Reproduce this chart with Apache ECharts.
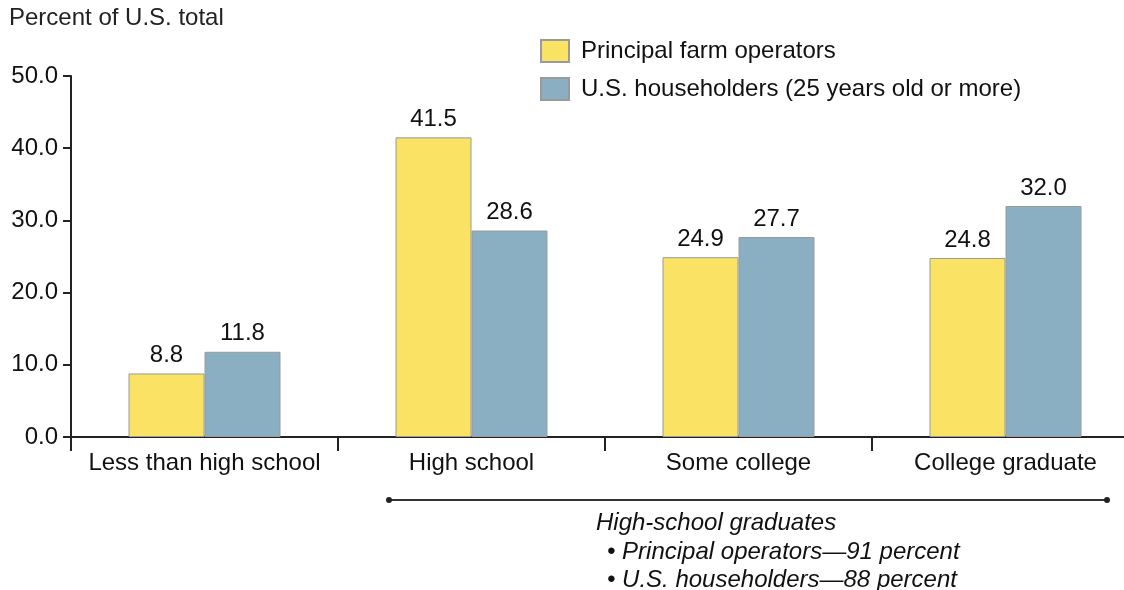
<!DOCTYPE html>
<html><head><meta charset="utf-8">
<script src="https://cdn.jsdelivr.net/npm/echarts@6/dist/echarts.min.js"></script>
<style>html,body{margin:0;padding:0;background:#fff}#c{width:1124px;height:590px}</style>
</head><body><div id="c"></div>
<script>
const categories = ['Less than high school', 'High school', 'Some college', 'College graduate'];
const farmOperators = [8.8, 41.5, 24.9, 24.8];
const householders = [11.8, 28.6, 27.7, 32.0];
const seriesNames = ['Principal farm operators', 'U.S. householders (25 years old or more)'];
const yTicks = [0, 10, 20, 30, 40, 50];
const noteLines = ['High-school graduates', '• Principal operators—91 percent', '• U.S. householders—88 percent'];

const FONT = '"Liberation Sans", Arial, Helvetica, sans-serif';
const FS = 24;
const chart = echarts.init(document.getElementById('c'));
const barLabel = {show: true, position: 'top', distance: 6, fontSize: FS, color: '#111', fontFamily: FONT,
  formatter: p => p.value.toFixed(1)};
chart.setOption({
  animation: false,
  textStyle: {fontFamily: FONT},
  title: {text: 'Percent of U.S. total', left: 9, top: 6, padding: 0,
    textStyle: {fontSize: FS, fontWeight: 'normal', color: '#222', fontFamily: FONT}},
  legend: {orient: 'vertical', left: 540, top: 39, padding: 0, itemWidth: 28, itemHeight: 22, itemGap: 14,
    icon: 'rect', data: seriesNames,
    textStyle: {fontSize: FS, color: '#111', fontFamily: FONT, padding: [0, 0, 0, 7]}},
  grid: {left: 71, width: 1068, top: 76, bottom: 153, containLabel: false, outerBoundsMode: 'none'},
  xAxis: {type: 'category', data: categories,
    axisLine: {lineStyle: {color: '#222', width: 2}},
    axisTick: {show: true, interval: 0, length: 14, lineStyle: {color: '#222', width: 2}},
    axisLabel: {interval: 0, fontSize: FS, color: '#111', margin: 14, fontFamily: FONT}},
  yAxis: {type: 'value', min: yTicks[0], max: yTicks[yTicks.length - 1], interval: 10,
    axisLine: {show: true, lineStyle: {color: '#222', width: 2}},
    axisTick: {show: true, length: 8, lineStyle: {color: '#222', width: 2}},
    splitLine: {show: false},
    axisLabel: {fontSize: FS, color: '#111', margin: 13, fontFamily: FONT, formatter: v => v.toFixed(1)}},
  series: [
    {name: seriesNames[0], type: 'bar', data: farmOperators, barWidth: 76, barGap: '0%',
      itemStyle: {color: '#FAE264', borderColor: '#9a9a9a', borderWidth: 1}, label: barLabel},
    {name: seriesNames[1], type: 'bar', data: householders, barWidth: 76, barGap: '0%',
      itemStyle: {color: '#8AAFC3', borderColor: '#9a9a9a', borderWidth: 1}, label: barLabel}
  ],
  graphic: [
    {type: 'line', shape: {x1: 389, y1: 500, x2: 1107, y2: 500}, style: {stroke: '#333', lineWidth: 2}},
    {type: 'circle', shape: {cx: 389, cy: 500, r: 3}, style: {fill: '#222'}},
    {type: 'circle', shape: {cx: 1107, cy: 500, r: 3}, style: {fill: '#222'}},
    {type: 'text', left: 596, top: 511, style: {text: noteLines[0], font: 'italic ' + FS + 'px ' + FONT, fill: '#111'}},
    {type: 'text', left: 607, top: 540, style: {text: noteLines[1], font: 'italic ' + FS + 'px ' + FONT, fill: '#111'}},
    {type: 'text', left: 607, top: 568, style: {text: noteLines[2], font: 'italic ' + FS + 'px ' + FONT, fill: '#111'}}
  ]
});
</script></body></html>
